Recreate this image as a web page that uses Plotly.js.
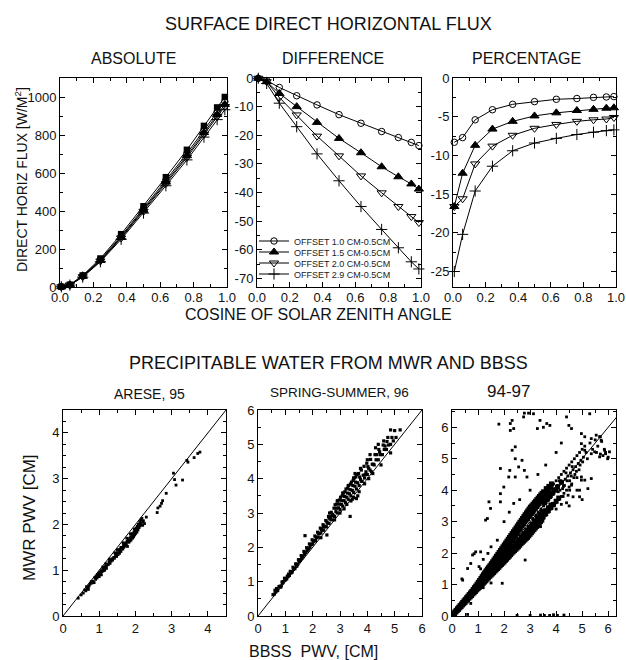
<!DOCTYPE html>
<html><head><meta charset="utf-8">
<script src="https://cdn.plot.ly/plotly-3.0.1.min.js"></script>
<style>html,body{margin:0;padding:0;background:#fff}#chart{width:626px;height:660px}</style>
</head><body><div id="chart"></div>
<script>
// ---------- DATA: top row (surface direct horizontal flux) ----------
const cosZenith = [0.008, 0.059, 0.136, 0.242, 0.366, 0.5, 0.634, 0.76, 0.862, 0.941, 0.987];

const absRef05 = [1.2, 12, 61, 150, 278, 425, 578, 722, 848, 945, 1000];
const absOff10 = [1.1, 11, 58, 144, 268, 412, 562, 703, 827, 922, 976];
const absOff15 = [1.1, 10.5, 56, 140, 262, 404, 552, 691, 813, 908, 961];
const absOff20 = [1.1, 10.5, 54, 137, 258, 398, 544, 682, 803, 897, 950];
const absOff29 = [1.0, 10, 52, 133, 251, 389, 533, 669, 789, 881, 933];

const diffOff10 = [-0.1, -0.9, -3.3, -6.2, -9.4, -12.8, -15.8, -18.7, -20.8, -22.5, -23.6];
const diffOff15 = [-0.1, -1.3, -5.4, -10.0, -15.5, -21.1, -26.1, -31.0, -34.5, -37.0, -38.8];
const diffOff20 = [-0.1, -1.3, -6.8, -12.9, -20.3, -27.2, -34.2, -40.1, -44.9, -48.4, -50.5];
const diffOff29 = [-0.1, -1.9, -8.8, -17.0, -26.5, -35.9, -44.9, -52.9, -59.3, -64.2, -66.7];

const pctOff10 = [-8.3, -7.7, -5.4, -4.1, -3.4, -3.05, -2.75, -2.65, -2.5, -2.45, -2.4];
const pctOff15 = [-16.6, -12.3, -8.7, -6.6, -5.6, -4.9, -4.5, -4.2, -4.05, -3.9, -3.85];
const pctOff20 = [-16.6, -15.6, -11.1, -8.8, -7.4, -6.5, -6.0, -5.6, -5.4, -5.3, -5.1];
const pctOff29 = [-25.0, -20.2, -14.6, -11.4, -9.4, -8.4, -7.8, -7.3, -7.0, -6.8, -6.7];

const seriesNames = ['OFFSET 1.0 CM-0.5CM', 'OFFSET 1.5 CM-0.5CM', 'OFFSET 2.0 CM-0.5CM', 'OFFSET 2.9 CM-0.5CM'];

const diffTickVals = [0, -10, -20, -30, -40, -50, -60, -70];
const diffTickText = ['0', '-10', '-20', '-30', '-40', '-50', '-60', '-70'];
const pctTickVals = [0, -5, -10, -15, -20, -25];
const pctTickText = ['0', '-5', '-10', '-15', '-20', '-25'];

// ---------- DATA: bottom row (precipitable water, BBSS vs MWR) ----------
const oneToOne = [0, 7];

const arese95 = [[0.42,0.39],[0.5,0.46],[0.56,0.5],[0.6,0.57],[0.63,0.55],[0.67,0.6],[0.7,0.63],[0.72,0.66],[0.75,0.7],[0.7,0.58],
[0.8,0.72],[0.83,0.76],[0.86,0.73],[0.9,0.8],[0.92,0.86],[0.94,0.83],[0.95,0.9],[0.97,0.88],[0.98,0.93],[1.0,0.92],
[1.0,0.86],[1.02,0.96],[1.04,0.94],[1.05,0.99],[1.06,0.9],[1.08,0.97],[1.1,1.02],[1.12,0.99],[1.13,1.05],[1.15,1.0],
[1.17,1.08],[1.2,1.1],[1.2,1.04],[1.22,1.13],[1.25,1.12],[1.27,1.18],[1.3,1.15],[1.3,1.21],[1.33,1.2],[1.35,1.25],
[1.37,1.22],[1.4,1.28],[1.42,1.26],[1.45,1.32],[1.46,1.36],[1.48,1.3],[1.5,1.38],[1.52,1.34],[1.55,1.42],[1.56,1.37],
[1.58,1.45],[1.6,1.48],[1.6,1.41],[1.63,1.5],[1.65,1.46],[1.67,1.55],[1.68,1.5],[1.7,1.58],[1.72,1.53],[1.74,1.6],
[1.75,1.56],[1.77,1.63],[1.78,1.52],[1.8,1.66],[1.82,1.61],[1.84,1.7],[1.85,1.64],[1.87,1.72],[1.88,1.66],[1.9,1.75],
[1.92,1.7],[1.93,1.78],[1.95,1.73],[1.96,1.84],[1.98,1.77],[2.0,1.86],[2.0,1.8],[2.02,1.92],[2.04,1.83],[2.05,1.96],
[2.07,1.88],[2.08,2.0],[2.1,1.93],[2.12,2.06],[2.13,1.97],[2.15,2.1],[2.16,2.02],[2.18,2.13],[2.2,1.98],[2.22,2.08],
[2.25,2.02],[2.3,2.16],[2.6,2.26],[2.62,2.36],[2.68,2.4],[2.72,2.46],[2.75,2.52],[2.85,2.68],[3.05,3.12],[3.08,2.98],
[3.12,2.86],[3.3,2.97],[3.42,3.4],[3.45,3.36],[3.62,3.46],[3.72,3.55],[3.78,3.58],[1.02,0.9],[1.6,1.5],[1.9,1.8],
[0.65,0.64],[0.78,0.75],[1.1,1.07],[1.28,1.24],[1.43,1.38],[1.53,1.45],[1.66,1.6],[1.76,1.7],[1.86,1.79],[1.97,1.9],
[2.06,1.9],[2.14,2.0],[2.2,2.06],[1.5,1.44],[1.18,1.14],[0.88,0.84]];

const springSummer96 = [[0.6,0.64],[0.65,0.7],[0.7,0.78],[0.72,0.74],[0.8,0.86],[0.83,0.84],[0.9,0.96],[0.88,0.99],[1.0,1.05],[0.97,1.1],[1.03,1.09],
[1.1,1.15],[1.12,1.22],[1.2,1.27],[1.18,1.3],[1.22,1.26],[1.3,1.36],[1.28,1.42],[1.4,1.47],[1.38,1.52],[1.42,1.45],
[1.5,1.58],[1.48,1.64],[1.55,1.62],[1.6,1.68],[1.58,1.76],[1.65,1.73],[1.7,1.79],[1.68,1.88],[1.75,1.85],[1.8,1.9],[1.78,1.99],[1.85,1.95],
[1.9,2.0],[1.88,2.1],[1.95,2.08],[2.0,2.1],[1.98,2.22],[2.05,2.18],[2.1,2.2],[2.08,2.33],[2.15,2.28],[2.2,2.3],[2.18,2.44],[2.25,2.4],
[2.3,2.42],[2.28,2.56],[2.35,2.5],[2.4,2.5],[2.38,2.66],[2.45,2.6],[2.5,2.6],[2.48,2.78],[2.55,2.7],[2.6,2.7],[2.58,2.9],[2.65,2.82],[2.62,3.0],
[2.7,2.8],[2.68,3.02],[2.75,2.93],[2.8,2.9],[2.78,3.14],[2.85,3.04],[2.82,3.24],[2.9,3.0],[2.88,3.26],[2.95,3.15],[2.92,3.36],
[3.0,3.1],[2.98,3.38],[3.05,3.25],[3.02,3.46],[3.1,3.2],[3.08,3.5],[3.15,3.36],[3.12,3.58],[3.2,3.3],[3.18,3.62],[3.25,3.46],[3.22,3.7],
[3.3,3.4],[3.28,3.72],[3.35,3.56],[3.32,3.8],[3.4,3.5],[3.38,3.84],[3.45,3.66],[3.42,3.9],[3.5,3.6],[3.48,3.95],[3.55,3.78],[3.52,4.02],
[3.6,3.7],[3.58,4.05],[3.65,3.88],[3.62,4.12],[3.7,3.8],[3.68,4.15],[3.75,3.98],[3.8,3.92],[3.78,4.25],[3.85,4.1],[3.9,4.02],[3.88,4.36],[3.95,4.2],
[4.0,4.12],[3.98,4.45],[4.05,4.3],[4.1,4.25],[4.12,4.56],[4.18,4.42],[4.25,4.4],[4.28,4.7],[4.32,4.55],[4.4,4.55],[4.42,4.85],[4.48,4.7],
[4.55,4.7],[4.58,4.98],[4.62,4.85],[4.7,4.85],[4.72,5.08],[4.78,4.98],[4.85,5.0],[4.9,5.2],[4.95,5.1],[5.05,5.2],
[0.55,0.62],[0.62,0.75],[0.68,0.8],[0.77,0.86],[0.85,0.88],[0.92,1.0],[1.05,1.08],[1.07,1.15],[1.15,1.18],[1.25,1.28],
[1.35,1.38],[1.45,1.5],[1.52,1.63],[1.62,1.74],[1.72,1.85],[1.82,1.96],[1.92,2.08],[2.02,2.18],[2.12,2.3],[2.22,2.4],
[2.32,2.52],[2.42,2.62],[2.52,2.74],[2.67,2.9],[2.72,2.96],[2.87,3.14],[2.97,3.26],[3.07,3.36],[3.17,3.48],[3.27,3.58],
[3.37,3.68],[3.47,3.8],[3.57,3.9],[3.72,4.05],[3.92,4.12],[4.02,4.35],[4.22,4.42],[4.35,4.7],[4.45,4.78],[4.65,4.95],
[3.55,4.15],[3.5,4.02],[3.3,3.8],[3.1,3.58],[2.9,3.35],[4.1,4.7],[4.3,4.9],[4.4,5.0],[4.6,5.1],[4.75,5.2],
[4.85,5.42],[5.0,5.4],[5.2,5.42],[4.0,4.55],[3.75,4.3],[3.37,2.9],[2.52,2.36],[1.72,2.34],[3.6,3.42],[3.65,3.5],
[3.8,3.92],[4.2,4.15],[4.15,4.2],[3.0,3.0],[2.8,2.8],[2.3,2.28],[3.9,3.85],[3.45,3.4],[3.25,3.25],[2.6,2.85],
[1.1,1.18],[0.9,0.98],[2.4,2.6],[3.5,3.45],[3.7,3.62],[4.05,4.0],[4.5,4.4],[4.85,4.75],[3.4,3.35],[3.15,3.12]];

const years9497Core = [[0.04,0.03],[0.06,0.07],[0.1,0.08],[0.11,0.13],[0.15,0.13],[0.16,0.18],[0.2,0.17],[0.21,0.23],[0.25,0.21],[0.26,0.28],[0.3,0.26],[0.31,0.33],[0.35,0.3],[0.36,0.38],
[0.4,0.35],[0.41,0.43],[0.45,0.39],[0.46,0.48],[0.5,0.43],[0.51,0.53],[0.55,0.48],[0.56,0.58],[0.6,0.52],[0.61,0.63],[0.65,0.57],[0.66,0.68],[0.63,0.6],
[0.7,0.61],[0.71,0.73],[0.68,0.67],[0.75,0.65],[0.76,0.78],[0.73,0.72],[0.8,0.7],[0.81,0.84],[0.78,0.77],[0.85,0.74],[0.86,0.9],[0.83,0.82],
[0.9,0.78],[0.91,0.95],[0.88,0.87],[0.95,0.83],[0.96,1.01],[0.93,0.92],[1.0,0.87],[1.01,1.07],[0.98,0.97],[1.05,0.91],[1.06,1.13],[1.03,1.02],
[1.1,0.95],[1.11,1.19],[1.08,1.07],[1.15,1.0],[1.16,1.25],[1.13,1.12],[1.2,1.04],[1.21,1.31],[1.18,1.17],[1.25,1.08],[1.26,1.37],[1.23,1.23],
[1.3,1.12],[1.31,1.43],[1.28,1.29],[1.35,1.17],[1.36,1.49],[1.33,1.34],[1.4,1.21],[1.41,1.55],[1.38,1.39],[1.45,1.26],[1.46,1.6],[1.43,1.45],
[1.5,1.3],[1.51,1.66],[1.48,1.5],[1.55,1.34],[1.56,1.72],[1.53,1.55],[1.6,1.38],[1.61,1.78],[1.58,1.6],[1.65,1.43],[1.66,1.84],[1.63,1.65],[1.67,1.55],
[1.7,1.47],[1.71,1.9],[1.68,1.7],[1.75,1.51],[1.76,1.96],[1.73,1.76],[1.77,1.63],[1.8,1.55],[1.81,2.02],[1.78,1.82],[1.85,1.6],[1.86,2.08],[1.83,1.87],[1.87,1.72],
[1.9,1.64],[1.91,2.14],[1.88,1.92],[1.95,1.68],[1.96,2.2],[1.93,1.98],[1.97,1.82],[2.0,1.72],[2.01,2.26],[1.98,2.04],[2.05,1.77],[2.06,2.32],[2.03,2.1],[2.07,1.92],
[2.1,1.81],[2.11,2.38],[2.08,2.16],[2.15,1.86],[2.16,2.44],[2.13,2.22],[2.17,2.02],[2.2,1.9],[2.21,2.5],[2.18,2.28],[2.25,1.95],[2.26,2.56],[2.23,2.34],[2.27,2.12],
[2.3,2.0],[2.31,2.62],[2.28,2.4],[2.35,2.04],[2.36,2.68],[2.33,2.46],[2.37,2.22],[2.4,2.08],[2.41,2.74],[2.38,2.52],[2.45,2.12],[2.46,2.8],[2.43,2.58],[2.47,2.32],
[2.5,2.16],[2.51,2.86],[2.48,2.64],[2.55,2.2],[2.56,2.92],[2.53,2.7],[2.57,2.42],[2.6,2.25],[2.61,2.98],[2.58,2.76],[2.65,2.3],[2.66,3.04],[2.63,2.82],[2.67,2.52],
[2.7,2.34],[2.71,3.1],[2.68,2.88],[2.75,2.38],[2.76,3.16],[2.73,2.94],[2.77,2.62],[2.8,2.42],[2.81,3.22],[2.78,3.0],[2.85,2.46],[2.86,3.28],[2.83,3.06],[2.87,2.72],
[2.9,2.5],[2.91,3.34],[2.88,3.12],[2.95,2.55],[2.96,3.4],[2.93,3.18],[2.97,2.82],[3.0,2.6],[3.01,3.46],[2.98,3.24],[3.05,2.65],[3.06,3.5],[3.03,3.3],[3.07,2.92],
[3.1,2.7],[3.11,3.55],[3.08,3.36],[3.15,2.75],[3.16,3.6],[3.13,3.42],[3.17,3.02],[3.2,2.8],[3.21,3.65],[3.18,3.46],[3.25,2.85],[3.26,3.7],[3.23,3.5],[3.27,3.12],
[3.3,2.9],[3.31,3.75],[3.28,3.55],[3.35,2.95],[3.36,3.8],[3.33,3.6],[3.37,3.22],[3.4,3.0],[3.41,3.85],[3.38,3.65],[3.45,3.05],[3.46,3.9],[3.43,3.7],[3.47,3.32],
[3.5,3.15],[3.52,3.95],[3.55,3.6],[3.6,3.25],[3.62,4.05],[3.65,3.7],[3.7,3.35],[3.72,4.12],[3.75,3.8],[3.8,3.45],[3.82,4.2],[3.85,3.9],[3.9,3.55],[3.95,4.0],
[4.0,3.65],[4.05,4.1],[4.1,3.75],[4.2,4.25],
[1.2,1.12],[1.2,1.28],[1.25,1.16],[1.25,1.34],[1.3,1.21],[1.3,1.39],[1.35,1.25],[1.35,1.45],[1.4,1.3],[1.4,1.5],
[1.45,1.35],[1.45,1.55],[1.5,1.39],[1.5,1.61],[1.55,1.44],[1.55,1.66],[1.6,1.49],[1.6,1.71],[1.65,1.53],[1.65,1.77],
[1.7,1.58],[1.7,1.82],[1.75,1.63],[1.75,1.87],[1.8,1.67],[1.8,1.93],[1.85,1.72],[1.85,1.98],[1.9,1.77],[1.9,2.03],
[1.95,1.81],[1.95,2.09],[2.0,1.86],[2.0,2.14],[2.05,1.91],[2.05,2.19],[2.1,1.95],[2.1,2.25],[2.15,2.0],[2.15,2.3],
[2.2,2.05],[2.2,2.35],[2.25,2.09],[2.25,2.41],[2.3,2.14],[2.3,2.46],[2.35,2.19],[2.35,2.51],[2.4,2.23],[2.4,2.57],
[2.45,2.28],[2.45,2.62],[2.5,2.33],[2.5,2.68],[2.55,2.37],[2.55,2.73],[2.6,2.42],[2.6,2.78],[2.65,2.46],[2.65,2.84],
[2.7,2.51],[2.7,2.89],[2.75,2.56],[2.75,2.94],[2.8,2.6],[2.8,3.0],[2.85,2.65],[2.85,3.05],[2.9,2.7],[2.9,3.1],
[2.95,2.74],[2.95,3.16],[3.0,2.79],[3.0,3.21],[3.05,2.84],[3.05,3.26],[3.1,2.88],[3.1,3.32],[3.15,2.93],[3.15,3.37],
[3.2,2.98],[3.2,3.42],[3.25,3.02],[3.25,3.48],[3.3,3.07],[3.3,3.53],[3.35,3.12],[3.35,3.58],[3.4,3.16],[3.4,3.64],
[3.45,3.21],[3.45,3.69],[3.5,3.26],[3.5,3.74],[3.6,3.35],[3.6,3.85],[3.7,3.44],[3.7,3.96],[3.8,3.53],[3.8,4.07]];

const years9497 = [[1.1,1.15],[1.2,1.27],[1.3,1.38],[1.4,1.5],[1.5,1.6],[1.6,1.7],[1.7,1.8],[1.8,1.92],[1.9,2.02],[2.0,2.12],
[3.05,3.5],[3.05,2.65],[3.1,3.1],[3.1,3.55],[3.12,2.7],[3.15,3.3],[3.2,3.62],[3.2,2.8],[3.22,3.2],[3.25,3.45],
[3.3,3.7],[3.3,2.9],[3.32,3.3],[3.35,3.55],[3.4,3.78],[3.4,3.0],[3.42,3.4],[3.45,3.62],[3.5,3.86],[3.5,3.1],
[3.52,3.5],[3.55,3.7],[3.6,3.95],[3.6,3.2],[3.62,3.6],[3.65,3.8],[3.7,4.05],[3.7,3.3],[3.72,3.7],[3.75,3.88],
[3.8,4.12],[3.8,3.4],[3.82,3.8],[3.85,3.95],[3.9,4.2],[3.9,3.5],[3.92,3.9],[3.95,4.05],[4.0,4.3],[4.0,3.6],
[4.02,4.0],[4.05,4.15],[4.1,4.4],[4.1,3.7],[4.15,4.0],[4.2,4.5],[4.2,3.8],[4.25,4.25],[4.3,4.6],[4.3,3.9],[4.35,4.35],
[4.4,4.7],[4.4,4.0],[4.45,4.45],[4.5,4.8],[4.5,4.1],[4.55,4.55],[4.6,4.9],[4.6,4.2],[4.65,4.65],[4.7,5.0],
[4.75,4.75],[4.8,5.1],[4.8,4.4],[4.85,4.85],[4.9,5.2],[4.95,4.95],[5.0,5.3],[5.05,5.05],[5.1,5.4],[5.15,5.2],
[5.2,5.0],[5.3,5.5],[5.4,5.3],[5.5,5.6],[5.55,5.2],[5.6,5.4],[5.7,5.7],[5.7,5.15],[5.75,5.55],[5.8,5.1],
[5.85,5.3],[5.9,5.2],[6.0,5.05],[4.12,4.3],[4.28,4.12],[4.38,4.55],[4.52,4.3],[4.62,4.75],[4.72,4.5],[4.88,4.65],
[4.27,3.8],[4.46,3.84],[4.52,4.0],[4.59,4.16],[4.65,3.79],[4.9,3.79],[4.9,4.0],[4.97,4.32],[5.1,4.32],[5.22,4.05],
[4.97,4.42],[5.35,4.37],[4.0,3.4],[3.4,2.84],[4.4,3.6],[4.8,4.0],[4.2,3.55],
[4.08,3.95],[4.18,4.3],[4.32,4.15],[4.42,4.3],[4.58,4.45],[4.68,4.4],[4.78,4.6],[4.92,4.8],[5.02,4.9],[4.25,4.05],
[0.41,1.14],[0.38,1.18],[1.04,1.57],[1.1,1.5],[0.91,2.04],[0.79,1.94],[0.85,1.98],[1.38,1.99],[1.74,2.41],[1.86,3.63],
[1.29,3.05],[1.48,3.42],[1.42,3.63],[1.36,3.1],[1.99,4.1],[1.86,3.89],[2.37,3.58],[2.24,6.12],[2.31,6.22],[1.8,6.1],
[2.24,5.9],[2.37,5.96],[2.43,5.38],[2.31,5.27],[1.86,4.69],[2.22,4.63],[2.18,4.42],[2.75,6.33],[2.78,6.45],[2.94,6.45],
[3.13,6.43],[3.28,5.96],[3.38,6.22],[3.51,6.0],[3.64,6.12],[3.76,6.06],[4.4,6.33],[4.49,6.06],[4.59,5.96],[5.29,6.43],
[4.97,5.8],[5.1,5.7],[2.43,5.0],[2.69,4.95],[2.56,4.74],[2.78,4.63],[2.88,4.42],[2.43,4.42],[0.72,1.67],[0.6,1.51],
[1.1,2.04],[2.0,3.0],[2.6,3.7],[3.0,4.0],[3.3,4.5],[1.5,2.2],[1.2,1.8],[2.2,3.3],[3.6,4.8],[4.0,5.2],[4.2,5.5],
[2.81,1.78],[1.93,1.04],[0.72,0.4],[2.5,0.02],[3.0,0.02],[3.4,0.03],[3.55,0.02],[3.75,0.02],[3.9,0.04],[4.05,0.02],
[4.3,0.03],[0.6,0.05],[1.2,0.9],[1.5,1.05],[5.67,5.06],[5.9,5.16],[5.98,5.0],[5.86,5.27],[6.05,5.22],[5.35,5.64],
[5.54,5.75],[5.67,5.7],[5.73,5.59],[5.48,5.22],[5.35,5.16],[4.97,5.48],[5.1,5.27],[5.0,3.7],[4.5,3.5]];

// ---------- STYLE ----------
const FONT = 'Liberation Sans, Arial, Helvetica, sans-serif';
const INK = '#111';
const W = 626, H = 660;
const px = v => v / W;
const py = v => 1 - v / H;

const absSeries = [absOff10, absOff15, absOff20, absOff29];
const diffSeries = [diffOff10, diffOff15, diffOff20, diffOff29];
const pctSeries = [pctOff10, pctOff15, pctOff20, pctOff29];
const markerStyles = [
  {symbol: 'circle-open', size: 6.5, color: '#000', line: {width: 1, color: '#000'}},
  {symbol: 'triangle-up', size: 8, color: '#000', line: {width: 1, color: '#000'}},
  {symbol: 'triangle-down-open', size: 8, color: '#000', line: {width: 1, color: '#000'}},
  {symbol: 'cross-thin-open', size: 8, color: '#000', line: {width: 1, color: '#000'}}
];
const legendIds = ['legend', 'legend2', 'legend3', 'legend4'];

const traces = [];
absSeries.forEach((ys, i) => traces.push({
  type: 'scatter', mode: 'lines+markers', x: cosZenith, y: ys, xaxis: 'x', yaxis: 'y',
  line: {color: '#000', width: 1}, marker: markerStyles[i], showlegend: false, cliponaxis: false
}));
traces.push({
  type: 'scatter', mode: 'lines+markers', x: cosZenith, y: absRef05, xaxis: 'x', yaxis: 'y',
  line: {color: '#000', width: 1}, marker: {symbol: 'square', size: 6.5, color: '#000'},
  showlegend: false, cliponaxis: false
});
diffSeries.forEach((ys, i) => traces.push({
  type: 'scatter', mode: 'lines+markers', x: cosZenith, y: ys, xaxis: 'x2', yaxis: 'y2',
  name: seriesNames[i], legend: legendIds[i],
  line: {color: '#000', width: 1}, marker: markerStyles[i], cliponaxis: false
}));
pctSeries.forEach((ys, i) => traces.push({
  type: 'scatter', mode: 'lines+markers', x: cosZenith, y: ys, xaxis: 'x3', yaxis: 'y3',
  line: {color: '#000', width: 1}, marker: markerStyles[i], showlegend: false, cliponaxis: false
}));
function dots(pts, xa, ya, size) {
  return {type: 'scatter', mode: 'markers', x: pts.map(p => p[0]), y: pts.map(p => p[1]),
    xaxis: xa, yaxis: ya, marker: {symbol: 'square', size: size, color: '#000'}, showlegend: false};
}
[['x4', 'y4'], ['x5', 'y5'], ['x6', 'y6']].forEach(([xa, ya]) => traces.push({
  type: 'scatter', mode: 'lines', x: oneToOne, y: oneToOne, xaxis: xa, yaxis: ya,
  line: {color: '#000', width: 1}, showlegend: false}));
traces.push(dots(arese95, 'x4', 'y4', 2.8));
traces.push(dots(springSummer96, 'x5', 'y5', 3.2));
traces.push(dots(years9497Core, 'x6', 'y6', 5));
traces.push(dots(years9497, 'x6', 'y6', 2.8));

function ax(extra) {
  return Object.assign({
    showline: true, linecolor: '#000', linewidth: 1, mirror: 'allticks',
    ticks: 'inside', ticklen: 5, tickwidth: 1, tickcolor: '#000',
    showgrid: false, zeroline: false, fixedrange: true,
    tickfont: {family: FONT, size: 13, color: INK}
  }, extra);
}
function minor(d) { return {dtick: d, ticks: 'inside', ticklen: 3, tickwidth: 1, tickcolor: '#000', showgrid: false}; }

const topY = [py(287), py(78)];
const botY = [py(616), py(410)];

function legendAt(yPix) {
  return {x: px(254), y: py(yPix), xanchor: 'left', yanchor: 'middle',
    bgcolor: 'rgba(0,0,0,0)', borderwidth: 0, font: {family: FONT, size: 9, color: '#222'},
    itemwidth: 30, tracegroupgap: 0};
}

function ann(text, xPix, yPix, size, extra) {
  return Object.assign({text: text, x: px(xPix), y: py(yPix), xref: 'paper', yref: 'paper',
    showarrow: false, xanchor: 'center', yanchor: 'middle', borderpad: 0,
    font: {family: FONT, size: size, color: INK}}, extra || {});
}

const topX = {range: [0, 1], dtick: 0.2, tick0: 0, tickformat: '.1f', minor: minor(0.1), ticklabelstandoff: -2};

const layout = {
  width: W, height: H, margin: {l: 0, r: 0, t: 0, b: 0},
  paper_bgcolor: '#fff', plot_bgcolor: '#fff', showlegend: true,
  font: {family: FONT, color: INK},
  xaxis: ax(Object.assign({domain: [px(60), px(227)], anchor: 'y'}, topX)),
  yaxis: ax({domain: topY, range: [0, 1100], dtick: 200, tick0: 0, minor: minor(100), anchor: 'x'}),
  xaxis2: ax(Object.assign({domain: [px(257), px(421)], anchor: 'y2'}, topX)),
  yaxis2: ax({domain: topY, range: [-73, 0], tickmode: 'array', tickvals: diffTickVals, ticktext: diffTickText, minor: minor(5), anchor: 'x2'}),
  xaxis3: ax(Object.assign({domain: [px(453), px(616)], anchor: 'y3'}, topX)),
  yaxis3: ax({domain: topY, range: [-27, 0], tickmode: 'array', tickvals: pctTickVals, ticktext: pctTickText, minor: minor(2.5), anchor: 'x3'}),
  xaxis4: ax({domain: [px(63), px(226)], range: [0, 4.5], dtick: 1, tick0: 0, minor: minor(0.5), anchor: 'y4'}),
  yaxis4: ax({domain: botY, range: [0, 4.5], dtick: 1, tick0: 0, minor: minor(0.25), anchor: 'x4'}),
  xaxis5: ax({domain: [px(258), px(422)], range: [0, 6], dtick: 1, tick0: 0, minor: minor(0.5), anchor: 'y5'}),
  yaxis5: ax({domain: botY, range: [0, 6], dtick: 1, tick0: 0, minor: minor(0.5), anchor: 'x5'}),
  xaxis6: ax({domain: [px(452), px(616)], range: [0, 6.3], dtick: 1, tick0: 0, minor: minor(0.5), anchor: 'y6'}),
  yaxis6: ax({domain: botY, range: [0, 6.55], dtick: 1, tick0: 0, minor: minor(0.5), anchor: 'x6'}),
  legend: legendAt(241), legend2: legendAt(252), legend3: legendAt(263), legend4: legendAt(274),
  annotations: [
    ann('SURFACE DIRECT HORIZONTAL FLUX', 328, 24, 18),
    ann('ABSOLUTE', 133, 58.5, 16),
    ann('DIFFERENCE', 333, 58.5, 16),
    ann('PERCENTAGE', 526, 59, 16),
    ann('COSINE OF SOLAR ZENITH ANGLE', 318, 314, 16),
    ann('DIRECT HORIZ FLUX [W/M<sup>2</sup>]', 21, 180, 14, {textangle: -90}),
    ann('PRECIPITABLE WATER FROM MWR AND BBSS', 328, 363, 18),
    ann('ARESE, 95', 149, 394, 14),
    ann('SPRING-SUMMER, 96', 339, 392, 13.5),
    ann('94-97', 508, 391, 17),
    ann('MWR PWV [CM]', 29, 518, 17, {textangle: -90}),
    ann('BBSS\u00a0 PWV, [CM]', 313, 651, 16)
  ]
};

Plotly.newPlot('chart', traces, layout, {staticPlot: true, displayModeBar: false});
</script>
</body></html>
